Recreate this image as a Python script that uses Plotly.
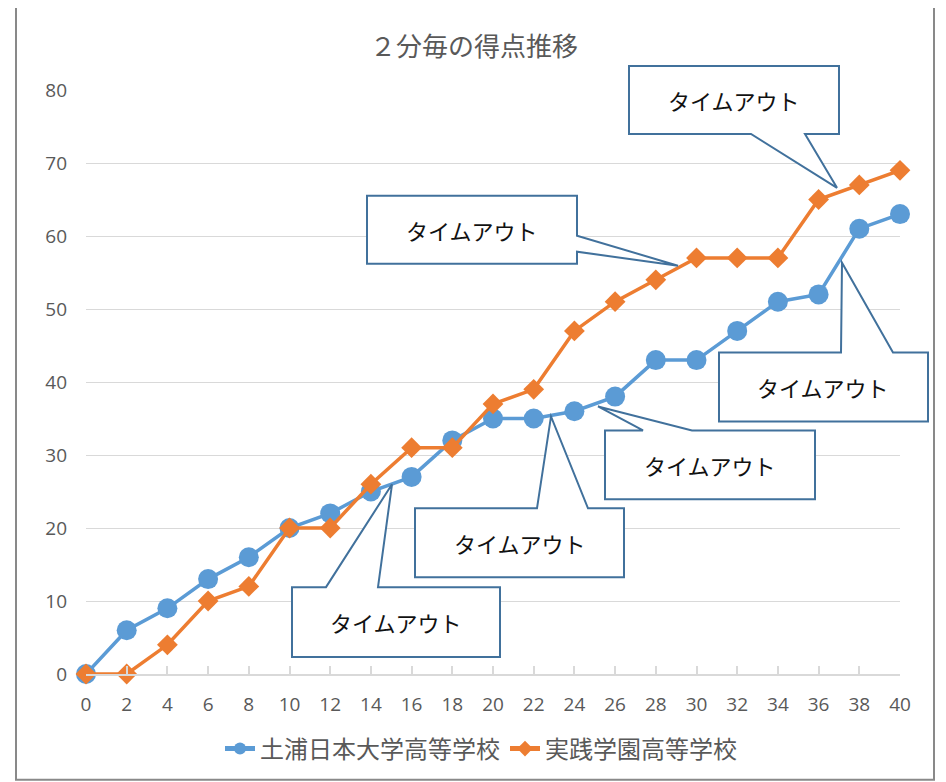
import plotly.graph_objects as go

minutes = [0, 2, 4, 6, 8, 10, 12, 14, 16, 18, 20, 22, 24, 26, 28, 30, 32, 34, 36, 38, 40]
tsuchiura = [0, 6, 9, 13, 16, 20, 22, 25, 27, 32, 35, 35, 36, 38, 43, 43, 47, 51, 52, 61, 63]
jissen = [0, 0, 4, 10, 12, 20, 20, 26, 31, 31, 37, 39, 47, 51, 54, 57, 57, 57, 65, 67, 69]
series_names = ["土浦日本大学高等学校", "実践学園高等学校"]
title_text = "２分毎の得点推移"
callout_text = "タイムアウト"

# the page body has an 8px margin; lay out in page pixels and offset
OFF = 8
W, H = 946 - OFF, 782 - OFF
PLOT_L, PLOT_R, PLOT_T, PLOT_B = 86, 900, 90, 675  # page pixels of plot area
L = PLOT_L - OFF
R = W - (PLOT_R - OFF)
T = PLOT_T - OFF
B = H - (PLOT_B - OFF)
PW, PH = PLOT_R - PLOT_L, PLOT_B - PLOT_T


def X(px):
    return (px - PLOT_L) / PW


def Y(py):
    return (PLOT_B - py) / PH


def path(points):
    return "M " + " L ".join(f"{X(a):.5f},{Y(b):.5f}" for a, b in points) + " Z"


fig = go.Figure()
fig.add_trace(go.Scatter(
    x=minutes, y=tsuchiura, name=series_names[0], mode="lines+markers",
    line=dict(color="#5B9BD5", width=3.5),
    marker=dict(symbol="circle", size=20, color="#5B9BD5"),
    cliponaxis=False,
))
fig.add_trace(go.Scatter(
    x=minutes, y=jissen, name=series_names[1], mode="lines+markers",
    line=dict(color="#ED7D31", width=3.5),
    marker=dict(symbol="diamond", size=16, color="#ED7D31"),
    cliponaxis=False,
))

callouts = [
    ([(629, 66), (839, 66), (839, 134), (805, 134), (837, 188), (751, 134), (629, 134)], (734, 100)),
    ([(367, 196), (577, 196), (577, 236), (678, 266), (577, 252), (577, 264), (367, 264)], (472, 230)),
    ([(719, 353), (841, 353), (842, 263), (893, 353), (928, 353), (928, 422), (719, 422)], (823, 388)),
    ([(605, 431), (643, 431), (598, 407), (692, 431), (815, 431), (815, 500), (605, 500)], (710, 466)),
    ([(415, 509), (537, 509), (551, 417), (588, 509), (624, 509), (624, 578), (415, 578)], (520, 544)),
    ([(292, 588), (326, 588), (392, 485), (378, 588), (500, 588), (500, 658), (292, 658)], (396, 623)),
]

shapes = [dict(type="rect", xref="paper", yref="paper",
               x0=X(16), x1=X(934), y0=Y(781), y1=Y(3),
               line=dict(color="#898989", width=2), fillcolor="rgba(0,0,0,0)", layer="below")]
annotations = []
for poly, (cx, cy) in callouts:
    shapes.append(dict(type="path", xref="paper", yref="paper", path=path(poly),
                       line=dict(color="#41719C", width=2), fillcolor="white", layer="above"))
    annotations.append(dict(xref="paper", yref="paper", x=X(cx), y=Y(cy),
                            text=callout_text, showarrow=False,
                            font=dict(family="Noto Sans CJK JP", size=22, color="#111111"),
                            xanchor="center", yanchor="middle"))

fig.update_layout(
    width=W, height=H,
    margin=dict(l=L, r=R, t=T, b=B),
    paper_bgcolor="white", plot_bgcolor="white",
    title=dict(text=title_text, x=(474 - OFF) / W, y=1 - (47 - OFF) / H,
               xref="container", yref="container",
               xanchor="center", yanchor="middle",
               font=dict(family="Noto Sans CJK JP", size=26, color="#595959")),
    xaxis=dict(range=[0, 40], tickmode="array", tickvals=minutes,
               ticktext=[str(m) for m in minutes],
               showgrid=False, zeroline=False, showline=True, linecolor="#D9D9D9", linewidth=1.5,
               ticks="inside", ticklen=8, tickcolor="#D9D9D9", tickwidth=1.5,
               ticklabelstandoff=12,
               tickfont=dict(family="Open Sans", size=19, color="#595959")),
    yaxis=dict(range=[0, 80], dtick=10, showgrid=True, gridcolor="#D9D9D9", gridwidth=1.3,
               zeroline=False, showline=False, ticks="",
               ticklabelstandoff=18,
               tickfont=dict(family="Open Sans", size=19, color="#595959")),
    legend=dict(orientation="h", x=X(481), y=Y(749), xref="paper", yref="paper",
                xanchor="center", yanchor="middle", itemsizing="constant",
                font=dict(family="Noto Sans CJK JP", size=24, color="#595959"),
                bgcolor="rgba(0,0,0,0)"),
    shapes=shapes,
    annotations=annotations,
    showlegend=True,
)

fig.write_html("out.html")
